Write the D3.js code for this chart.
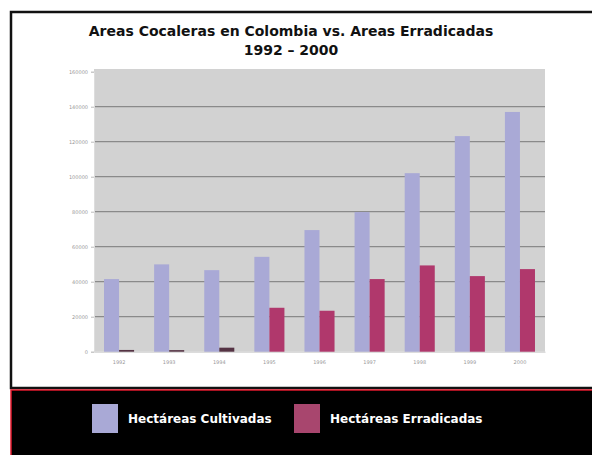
<!DOCTYPE html>
<html>
<head>
<meta charset="utf-8">
<script src="https://cdn.jsdelivr.net/npm/d3@7"></script>
<style>
  body { margin: 0; background: #fff; }
  svg { display: block; }
</style>
</head>
<body>
<svg id="chart" width="592" height="455"></svg>
<script>
  // values
  var years = ["1992", "1993", "1994", "1995", "1996", "1997", "1998", "1999", "2000"];
  var cultivadas = [41500, 49900, 46600, 54200, 69500, 79800, 102000, 123200, 137000];
  var erradicadas = [1000, 900, 2300, 25100, 23400, 41500, 49300, 43200, 47200];
  var yTicks = [0, 20000, 40000, 60000, 80000, 100000, 120000, 140000, 160000];
  var seriesNames = ["Hectáreas Cultivadas", "Hectáreas Erradicadas"];
  var seriesColors = ["#a9a9d6", "#b0386c"];

  var svg = d3.select("#chart");

  // frame
  svg.append("rect").attr("x", 11).attr("y", 12).attr("width", 600).attr("height", 376)
    .attr("fill", "#fff").attr("stroke", "#111").attr("stroke-width", 2.5);
  svg.append("rect").attr("x", 11).attr("y", 390).attr("width", 600).attr("height", 80)
    .attr("fill", "#000").attr("stroke", "#e0182c").attr("stroke-width", 1.5);

  var plotL = 94, plotR = 545, plotT = 71.7, plotB = 351.7;

  var x = d3.scaleBand().domain(years).range([plotL, plotR]);
  var y = d3.scaleLinear().domain([0, 160000]).range([plotB, plotT]);

  svg.append("rect").attr("x", plotL).attr("y", 69).attr("width", plotR - plotL).attr("height", plotB - 69)
    .attr("fill", "#d2d2d2");

  svg.selectAll("line.grid")
    .data(yTicks.slice(1, -1))
  .enter().append("line")
    .attr("class", "grid")
    .attr("x1", plotL).attr("x2", plotR)
    .attr("y1", function(d) { return y(d); })
    .attr("y2", function(d) { return y(d); })
    .attr("stroke", "#8a8a8a").attr("stroke-width", 1.2);

  var yAxis = svg.append("g")
    .attr("transform", "translate(" + plotL + ",0)")
    .call(d3.axisLeft(y).tickValues(yTicks).tickFormat(d3.format("d")).tickSize(3).tickPadding(3));
  yAxis.select(".domain").attr("stroke", "#ddd");
  yAxis.selectAll(".tick line").attr("stroke", "#bbb");
  yAxis.selectAll("text").attr("fill", "#999").style("font", "5px 'DejaVu Sans'");

  var xAxis = svg.append("g")
    .attr("transform", "translate(0," + plotB + ")")
    .call(d3.axisBottom(x).tickSize(0).tickPadding(9));
  xAxis.select(".domain").attr("stroke", "#ccc");
  xAxis.selectAll("text").attr("fill", "#999").style("font", "5px 'DejaVu Sans'");

  var bw = x.bandwidth() * 0.3;

  svg.selectAll("rect.cult")
    .data(cultivadas)
  .enter().append("rect")
    .attr("class", "cult")
    .attr("x", function(d, i) { return x(years[i]) + x.bandwidth() / 2 - bw; })
    .attr("y", function(d) { return y(d); })
    .attr("width", bw)
    .attr("height", function(d) { return plotB - y(d); })
    .attr("fill", seriesColors[0]);

  svg.selectAll("rect.erra")
    .data(erradicadas)
  .enter().append("rect")
    .attr("class", "erra")
    .attr("x", function(d, i) { return x(years[i]) + x.bandwidth() / 2; })
    .attr("y", function(d) { return y(d); })
    .attr("width", bw)
    .attr("height", function(d) { return plotB - y(d); })
    .attr("fill", function(d) { return d < 5000 ? "#553344" : seriesColors[1]; });

  // title
  var title = svg.append("text")
    .attr("text-anchor", "middle")
    .attr("fill", "#111")
    .style("font", "bold 14px 'DejaVu Sans'");
  title.append("tspan").attr("x", 291).attr("y", 36).text("Areas Cocaleras en Colombia vs. Areas Erradicadas");
  title.append("tspan").attr("x", 291).attr("y", 55).text("1992 – 2000");

  // legend
  var legendX = [92, 294];
  var legend = svg.selectAll("g.legend")
    .data(seriesNames)
  .enter().append("g")
    .attr("class", "legend")
    .attr("transform", function(d, i) { return "translate(" + legendX[i] + ",404)"; });
  legend.append("rect").attr("width", 26).attr("height", 29)
    .attr("fill", function(d, i) { return i == 1 ? "#a8466e" : seriesColors[i]; });
  legend.append("text")
    .attr("x", 36).attr("y", 19)
    .attr("fill", "#fff")
    .style("font", "bold 12px 'DejaVu Sans'")
    .text(function(d) { return d; });
</script>
</body>
</html>
